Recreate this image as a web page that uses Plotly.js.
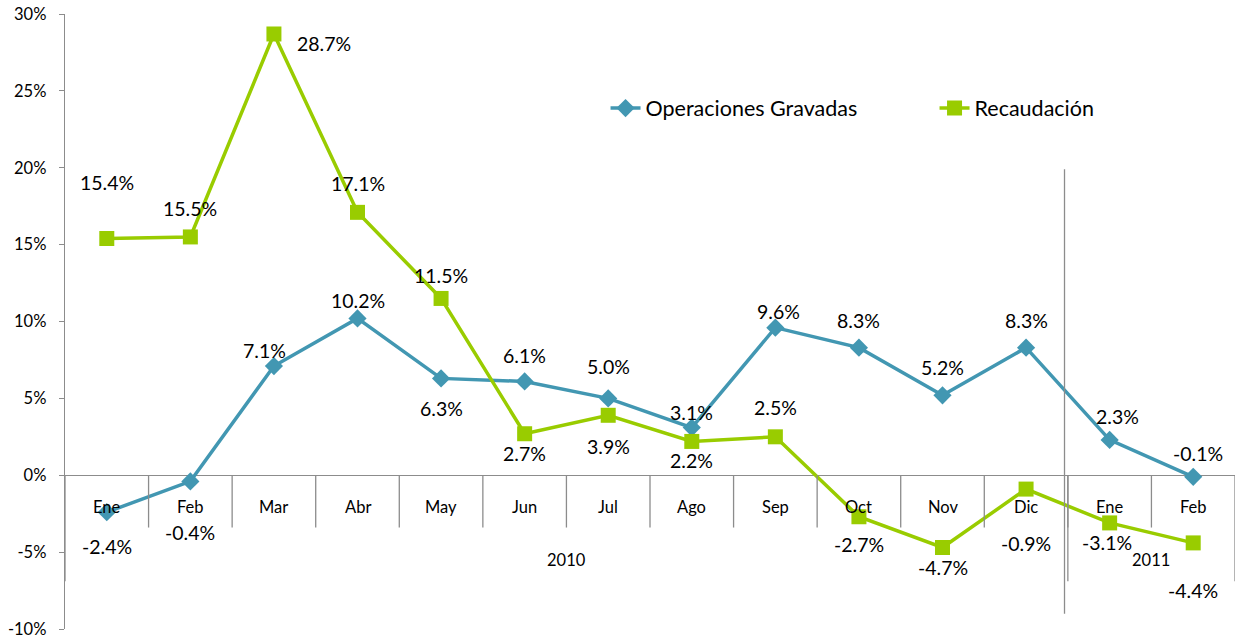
<!DOCTYPE html>
<html>
<head>
<meta charset="utf-8">
<script src="https://cdn.plot.ly/plotly-3.0.1.min.js"></script>
<style>html,body{margin:0;padding:0;background:#fff;}#chart{width:1235px;height:641px;}</style>
</head>
<body>
<div id="chart"></div>
<script>
// ---- data ----
const months = ["Ene","Feb","Mar","Abr","May","Jun","Jul","Ago","Sep","Oct","Nov","Dic","Ene","Feb"];
const years = ["2010","2011"];
const yearSpan = [12, 2];
const operacionesGravadas = [-2.4, -0.4, 7.1, 10.2, 6.3, 6.1, 5.0, 3.1, 9.6, 8.3, 5.2, 8.3, 2.3, -0.1];
const recaudacion = [15.4, 15.5, 28.7, 17.1, 11.5, 2.7, 3.9, 2.2, 2.5, -2.7, -4.7, -0.9, -3.1, -4.4];
const yTicks = [-10, -5, 0, 5, 10, 15, 20, 25, 30];

// ---- label placement (style) ----
const ogShift = [[0,-34],[0,-51],[-9,16],[0,18],[0,-30],[0,26],[0,32],[0,15],[3,16],[0,27],[0,28],[0,27],[8,23],[5,23]];
const recShift = [[0,56],[0,28],[50,-10],[0,29],[0,23],[0,-20],[0,-31],[0,-19],[0,29],[0,-28],[0,-20],[0,-54],[-3,-20],[0,-48]];

const blue = "#4297B2";
const green = "#99CC00";
const gray = "#8C8C8C";
const font = "Lato, 'Open Sans', sans-serif";

const x = months.map((m, i) => i);
const fmt = v => v.toFixed(1) + "%";

const traces = [
  {x: x, y: operacionesGravadas, name: "Operaciones Gravadas", type: "scatter", mode: "lines+markers",
   line: {color: blue, width: 3.5}, marker: {symbol: "diamond", size: 14, color: blue}, hoverinfo: "skip"},
  {x: x, y: recaudacion, name: "Recaudación", type: "scatter", mode: "lines+markers",
   line: {color: green, width: 3.5}, marker: {symbol: "square", size: 15, color: green}, hoverinfo: "skip"}
];

const labelFont = {family: font, size: 19.5, color: "#000"};
const axisFont = {family: font, size: 16.5, color: "#000"};

const annotations = [];
operacionesGravadas.forEach((v, i) => annotations.push({x: i, y: v, xref: "x", yref: "y", text: fmt(v), showarrow: false,
  xshift: ogShift[i][0], yshift: ogShift[i][1], font: labelFont}));
recaudacion.forEach((v, i) => annotations.push({x: i, y: v, xref: "x", yref: "y", text: fmt(v), showarrow: false,
  xshift: recShift[i][0], yshift: recShift[i][1], font: labelFont}));
months.forEach((m, i) => annotations.push({x: i, y: 0, xref: "x", yref: "y", text: m, showarrow: false, yshift: -32,
  font: axisFont}));

const shapes = [];
// month separators
for (let i = 1; i < months.length; i++) {
  shapes.push({type: "line", xref: "x", yref: "y", x0: i - 0.5, x1: i - 0.5, y0: 0, y1: -3.4, line: {color: gray, width: 1.3}});
}
// year groups
let start = 0;
years.forEach((yr, k) => {
  const end = start + yearSpan[k];
  annotations.push({x: (start + end - 1) / 2, y: -5.5, xref: "x", yref: "y", text: yr, showarrow: false, font: axisFont});
  shapes.push({type: "line", xref: "x", yref: "y", x0: end - 0.5, x1: end - 0.5, y0: 0, y1: -6.9, line: {color: gray, width: 1.3}});
  start = end;
});
shapes.push({type: "line", xref: "x", yref: "y", x0: -0.5, x1: -0.5, y0: 0, y1: -6.9, line: {color: gray, width: 1.3}});
// year break vertical line
shapes.push({type: "line", xref: "x", yref: "y", x0: 11.46, x1: 11.46, y0: 19.9, y1: -9.0, line: {color: gray, width: 1.3}});

const layout = {
  width: 1235, height: 641,
  margin: {l: 65, r: 0, t: 14, b: 12, autoexpand: false},
  paper_bgcolor: "#fff", plot_bgcolor: "#fff",
  showlegend: true,
  legend: {orientation: "h", x: 0.462, y: 0.847, xanchor: "left", yanchor: "middle",
    font: {family: font, size: 21.5, color: "#000"}, entrywidth: 284, bgcolor: "rgba(0,0,0,0)"},
  xaxis: {range: [-0.5, 13.5], showticklabels: false, ticks: "", showgrid: false, zeroline: false, showline: false, fixedrange: true},
  yaxis: {range: [-10, 30], tickvals: yTicks, ticktext: yTicks.map(v => v + "%"), ticks: "outside", ticklen: 5,
    tickcolor: gray, showline: true, linecolor: gray, linewidth: 1.3, showgrid: false, zeroline: true,
    zerolinecolor: gray, zerolinewidth: 1.3, tickfont: axisFont, ticklabelstandoff: 9, fixedrange: true},
  annotations: annotations,
  shapes: shapes
};

Plotly.newPlot("chart", traces, layout, {displayModeBar: false, staticPlot: true});
</script>
</body>
</html>
